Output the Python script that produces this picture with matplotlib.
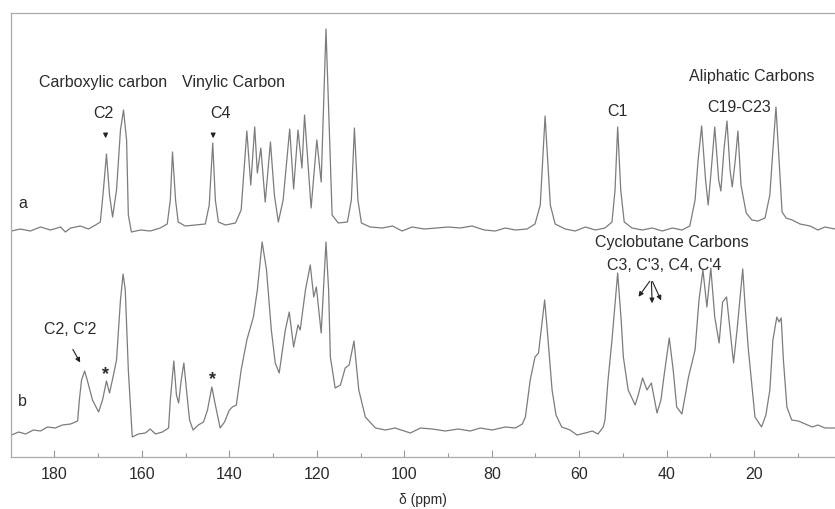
import numpy as np
import matplotlib
matplotlib.use('Agg')
import matplotlib.pyplot as plt

plt.rcParams['font.family'] = ['Liberation Sans', 'DejaVu Sans']

# spectrum a (monomer): chemical shift (ppm) and intensity above its baseline
ppm_a = [189.8, 187.8, 185.5, 183.2, 180.9, 178.6, 177.5, 176.3, 174.1, 172.2, 170.6, 169.5,
         168.8, 168.1, 167.4, 166.7, 165.8, 164.9, 164.2, 163.5, 163.1, 162.4, 160.3, 158.1,
         155.8, 154.2, 153.5, 153.0, 152.3, 151.7, 150.1, 147.8, 145.5, 144.6, 143.8, 143.2,
         142.5, 140.9, 138.6, 137.3, 136.0, 135.1, 134.2, 133.6, 132.8, 131.8, 130.6, 129.7,
         128.8, 127.7, 126.2, 125.3, 124.3, 123.4, 122.8, 121.3, 120.0, 119.0, 117.9, 117.0,
         116.5, 115.1, 113.0, 112.1, 111.4, 110.6, 109.8, 107.8, 105.0, 102.7, 100.5, 98.2,
         95.4, 92.7, 89.9, 87.2, 84.5, 81.7, 79.2, 76.9, 74.6, 71.9, 70.1, 68.9, 67.8, 66.6,
         65.5, 63.2, 60.9, 58.6, 56.3, 54.1, 52.5, 51.8, 51.2, 50.5, 49.7, 47.9, 45.6, 43.3,
         41.0, 38.7, 36.5, 34.7, 33.5, 32.8, 32.0, 31.1, 30.5, 29.8, 29.0, 28.1, 27.6, 26.9,
         26.2, 25.5, 25.0, 24.3, 23.7, 23.0, 21.8, 20.5, 19.1, 17.5, 16.4, 15.7, 15.0, 14.3,
         13.6, 12.7, 11.3, 9.5, 7.2, 5.4, 3.8, 1.5]
int_a = [-2, 0, -2, 2, -1, 2, -3, 1, 3, 0, 4, 7,
         39, 75, 34, 12, 39, 99, 119, 89, 14, -3, -1, -2,
         1, 5, 29, 77, 29, 7, 3, 4, 5, 24, 86, 29,
         7, 4, 6, 19, 98, 44, 102, 56, 81, 27, 87, 34,
         7, 29, 100, 40, 99, 61, 114, 21, 89, 47, 200, 79,
         14, 6, 7, 29, 101, 29, 6, 2, 1, 3, -2, 2,
         0, 1, 2, 1, 3, -1, -2, 1, -1, 0, 5, 24, 113, 24,
         5, 0, -2, 2, -1, 1, 7, 39, 102, 39, 7, 1, -1, 1,
         -2, 1, -1, 3, 29, 69, 103, 49, 24, 59, 102, 49, 38, 79,
         108, 59, 42, 69, 98, 44, 16, 9, 8, 11, 34, 79, 122, 69,
         17, 11, 9, 5, 3, -1, 2, 0]

# spectrum b (photodimer)
ppm_b = [189.8, 188.2, 186.6, 184.8, 183.2, 181.6, 179.8, 178.2, 176.3, 174.7, 174.3, 173.8,
         173.1, 172.5, 171.3, 169.9, 169.0, 168.1, 167.4, 166.5, 165.8, 164.9, 164.3, 163.8,
         163.1, 162.2, 160.8, 159.2, 158.1, 156.9, 155.3, 153.9, 153.5, 152.7, 152.1, 151.6,
         151.0, 150.4, 149.8, 149.1, 148.3, 147.1, 145.9, 145.0, 144.0, 143.2, 142.1, 141.1,
         140.0, 139.3, 138.4, 137.3, 136.0, 134.5, 133.6, 132.5, 131.5, 130.4, 129.5, 128.6,
         127.2, 126.3, 125.3, 124.3, 123.8, 122.6, 121.5, 120.7, 120.1, 119.0, 117.9, 117.3,
         116.9, 115.8, 114.6, 113.5, 112.6, 111.5, 110.4, 108.9, 106.6, 104.3, 102.1, 98.6,
         96.3, 93.6, 90.6, 87.7, 84.9, 82.6, 79.9, 76.9, 74.6, 73.0, 72.3, 71.2, 70.1, 69.3,
         68.7, 67.9, 67.3, 66.2, 65.3, 64.0, 62.1, 60.5, 58.6, 57.0, 55.7, 54.5, 54.1, 53.4,
         52.5, 51.2, 50.4, 49.9, 48.8, 47.2, 46.5, 45.5, 44.5, 43.5, 42.2, 41.3, 40.6, 39.4,
         38.5, 37.7, 36.5, 35.0, 33.5, 32.6, 31.7, 30.8, 29.9, 29.0, 28.0, 27.2, 26.3, 25.5,
         24.7, 23.9, 22.6, 22.0, 21.3, 19.8, 18.3, 17.3, 16.4, 15.7, 14.8, 14.3, 13.8, 13.3,
         12.5, 11.4, 9.9, 8.3, 6.7, 5.4, 3.8, 1.5]
int_b = [-6, -3, -5, -1, -2, 2, 1, 4, 5, 8, 29, 49,
         58, 49, 29, 17, 29, 48, 36, 54, 69, 129, 155, 139,
         59, -8, -5, -4, 0, -5, -3, 1, 29, 68, 34, 26,
         49, 66, 39, 9, -1, 4, 7, 19, 42, 24, 1, 7,
         19, 22, 24, 59, 89, 112, 139, 187, 159, 99, 66, 56,
         99, 117, 82, 104, 99, 139, 164, 132, 142, 96, 187, 139,
         72, 41, 44, 61, 64, 88, 39, 12, 1, -1, 1, -4,
         1, 0, -2, 0, -2, 1, -1, 2, 1, 5, 12, 49, 72, 76,
         99, 129, 99, 39, 14, 2, -1, -6, -4, -2, -5, 2, 9, 49,
         89, 156, 109, 72, 39, 24, 34, 51, 39, 46, 16, 29, 53, 91,
         59, 22, 15, 52, 79, 129, 159, 122, 161, 112, 86, 127, 132, 99,
         66, 99, 160, 119, 79, 12, 2, 14, 39, 89, 112, 107, 111, 69,
         22, 9, 8, 5, 2, 4, 1, 1]

offset_a = 228
offset_b = 28

fig = plt.figure(figsize=(8.35, 5.09), dpi=100)
ax = fig.add_axes([10.7 / 835, 52 / 509, 1 - 10.7 / 835, 444 / 509])

line_col = '#7c7c7c'
text_col = '#2b2b2b'
ax.plot(ppm_a, np.array(int_a) + offset_a, color=line_col, lw=0.9)
ax.plot(ppm_b, np.array(int_b) + offset_b, color=line_col, lw=0.9)

ax.set_xlim(190, 1.5)
ax.set_ylim(0, 444)
ax.set_yticks([])
ax.set_xticks(np.arange(180, 19, -20))
ax.set_xticks(np.arange(170, 9, -20), minor=True)
ax.tick_params(axis='x', which='major', direction='in', length=5, width=0.8,
               color='#999999', labelsize=11.5, labelcolor=text_col, pad=7)
ax.tick_params(axis='x', which='minor', direction='in', length=3, width=0.8, color='#999999')
for s in ['left', 'top', 'bottom']:
    ax.spines[s].set_color('#aaaaaa')
    ax.spines[s].set_linewidth(0.9)
ax.spines['right'].set_visible(False)
ax.set_xlabel('δ (ppm)', fontsize=10, color=text_col, labelpad=8)

fs = 11.5
ax.text(168.8, 374, 'Carboxylic carbon', ha='center', va='center', fontsize=fs, color=text_col)
ax.text(139.1, 374, 'Vinylic Carbon', ha='center', va='center', fontsize=fs, color=text_col)
ax.text(168.8, 344, 'C2', ha='center', va='center', fontsize=fs, color=text_col)
ax.text(142.0, 344, 'C4', ha='center', va='center', fontsize=fs, color=text_col)
ax.text(51.3, 346, 'C1', ha='center', va='center', fontsize=fs, color=text_col)
ax.text(20.5, 380, 'Aliphatic Carbons', ha='center', va='center', fontsize=fs, color=text_col)
ax.text(23.4, 350, 'C19-C23', ha='center', va='center', fontsize=fs, color=text_col)
ax.text(187.3, 254, 'a', ha='center', va='center', fontsize=fs, color=text_col)
ax.text(187.3, 55, 'b', ha='center', va='center', fontsize=fs, color=text_col)
ax.text(176.3, 127, "C2, C'2", ha='center', va='center', fontsize=fs, color=text_col)
ax.text(38.7, 214, 'Cyclobutane Carbons', ha='center', va='center', fontsize=fs, color=text_col)
ax.text(40.6, 192, "C3, C'3, C4, C'4", ha='center', va='center', fontsize=fs, color=text_col)
ax.text(168.3, 82, '*', ha='center', va='center', fontsize=13, fontweight='bold', color=text_col)
ax.text(143.9, 77, '*', ha='center', va='center', fontsize=13, fontweight='bold', color=text_col)

arrow = dict(arrowstyle='-|>', color='#222222', lw=0.8, mutation_scale=7)
ax.annotate('', xy=(168.3, 316), xytext=(168.3, 326), arrowprops=arrow)
ax.annotate('', xy=(143.7, 316), xytext=(143.7, 326), arrowprops=arrow)
ax.annotate('', xy=(173.8, 92), xytext=(176.1, 110), arrowprops=arrow)
for tip in [(46.8, 158), (43.3, 151), (41.0, 154)]:
    ax.annotate('', xy=tip, xytext=(43.5, 178), arrowprops=arrow)

fig.savefig('out.png', dpi=100)
